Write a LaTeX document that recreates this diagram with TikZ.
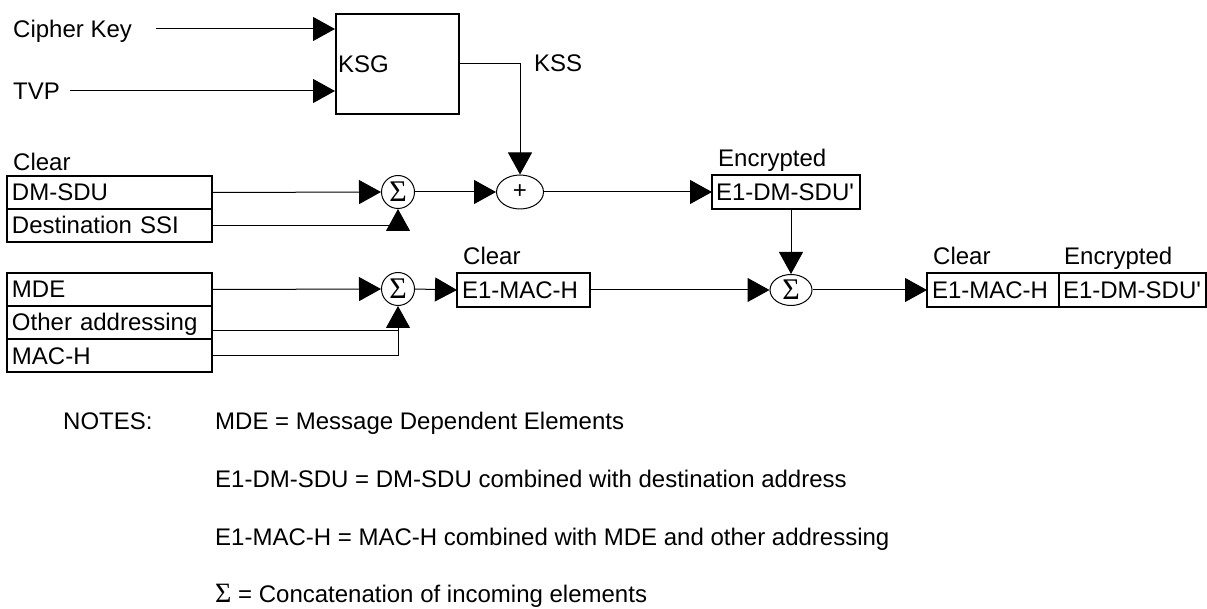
\documentclass[tikz,border=0pt]{standalone}
\usepackage{fontspec}
\setmainfont{Liberation Sans}
\newfontfamily\sigfont{Liberation Serif}
\newcommand{\sumsign}[1]{{\sigfont\fontsize{#1}{#1}\selectfont Σ}}
\usetikzlibrary{arrows.meta,positioning,shapes.geometric}

\begin{document}
\begin{tikzpicture}[x=1pt, y=-1pt, >={Triangle[length=22pt,width=24pt]},
    font=\fontsize{24}{28}\selectfont,
    lbl/.style={inner sep=0pt, text height=17pt, text depth=0pt},
    field/.style={draw, line width=2pt, outer sep=0pt, inner xsep=5pt, inner ysep=0pt,
        text height=17pt, text depth=0pt, align=left},
    conn/.style={line width=1pt},
    joint/.style={draw, line width=1pt, ellipse, inner sep=0pt}]
    \useasboundingbox (0,0) rectangle (1207,609);

    % key stream generator
    \node (ksg) [draw, line width=2pt, minimum width=123pt, minimum height=100pt, anchor=north west,
        label={[lbl, anchor=west, xshift=3pt]west:KSG}] at (335,13) {};
    \node (key) [lbl, anchor=west] at (13,29) {Cipher Key};
    \node (tvp) [lbl, anchor=west] at (13,91) {TVP};
    \node (kss) [lbl, anchor=west] at (534,63) {KSS};

    % upper row
    \node (dmsdu) [field, text width=195pt, minimum height=33pt, anchor=north west] at (7,176) {DM-SDU};
    \node (dstssi) [field, text width=195pt, minimum height=33pt, below=0pt of dmsdu] {Destination SSI};
    \node (clr1) [lbl, anchor=base west] at ([xshift=6pt, yshift=5pt]dmsdu.north west) {Clear};
    \node (sig1) [joint, circle, minimum size=33pt] at (398,192) {\sumsign{30}};
    \node (plus) [joint, minimum width=47pt, minimum height=34pt] at (520,192) {+};
    \node (encdm) [field, inner xsep=4pt, text width=140pt, minimum height=34pt, anchor=north west]
        at (712,175) {\mbox{E1-DM-SDU\textquotesingle}};
    \node (enc1) [lbl, anchor=base west] at ([xshift=6pt, yshift=8pt]encdm.north west) {Encrypted};

    % lower row
    \node (mde) [field, text width=195pt, minimum height=33pt, anchor=north west] at (7,273) {MDE};
    \node (other) [field, text width=195pt, minimum height=33pt, below=0pt of mde] {Other addressing};
    \node (mach) [field, text width=195pt, minimum height=33pt, below=0pt of other] {MAC-H};
    \node (sig2) [joint, circle, minimum size=33pt] at (398,289) {\sumsign{30}};
    \node (e1mac) [field, text width=123pt, minimum height=34pt, anchor=north west] at (457,273) {E1-MAC-H};
    \node (clr2) [lbl, anchor=base west] at ([xshift=6pt, yshift=8pt]e1mac.north west) {Clear};
    \node (sig3) [joint, minimum width=42pt, minimum height=31pt] at (791,290) {\sumsign{30}};
    \node (outmac) [field, text width=122pt, minimum height=34pt, anchor=north west] at (927,273) {E1-MAC-H};
    \node (outdm) [field, inner xsep=4pt, text width=139pt, minimum height=34pt, right=0pt of outmac]
        {\mbox{E1-DM-SDU\textquotesingle}};
    \node (clr3) [lbl, anchor=base west] at ([xshift=6pt, yshift=8pt]outmac.north west) {Clear};
    \node (enc2) [lbl, anchor=base west] at ([xshift=5pt, yshift=8pt]outdm.north west) {Encrypted};

    % connectors
    \draw[conn,->] ([xshift=24pt]key.east) -- (key.east -| ksg.west);
    \draw[conn,->] ([xshift=10pt]tvp.east) -- (tvp.east -| ksg.west);
    \draw[conn,->] (ksg.east) -| (plus.north);
    \draw[conn,->] (dmsdu.east) -- (sig1.west);
    \draw[conn,->] (dstssi.east) -| (sig1.south);
    \draw[conn,->] (sig1.east) -- (plus.west);
    \draw[conn,->] (plus.east) -- (encdm.west);
    \draw[conn,->] (encdm.south -| sig3.north) -- (sig3.north);
    \draw[conn,->] (mde.east) -- (sig2.west);
    \coordinate (otherout) at ([yshift=-8pt]other.east);
    \coordinate (merge) at (otherout -| sig2.south);
    \draw[conn,->] (otherout) -| (sig2.south);
    \draw[conn] (mach.east) -| (merge);
    \draw[conn,->] (sig2.east) -- (e1mac.west);
    \draw[conn,->] (e1mac.east) -- (sig3.west);
    \draw[conn,->] (sig3.east) -- (outmac.west);

    % notes
    \node (notes) [lbl, anchor=west] at (63,421) {NOTES:};
    \node (note1) [lbl, anchor=west] at (215,421) {MDE = Message Dependent Elements};
    \node (note2) [lbl, anchor=west] at (215,479) {E1-DM-SDU = DM-SDU combined with destination address};
    \node (note3) [lbl, anchor=west] at (215,537) {E1-MAC-H = MAC-H combined with MDE and other addressing};
    \node (note4) [lbl, anchor=west] at (215,594) {\sumsign{28} = Concatenation of incoming elements};
\end{tikzpicture}
\end{document}
